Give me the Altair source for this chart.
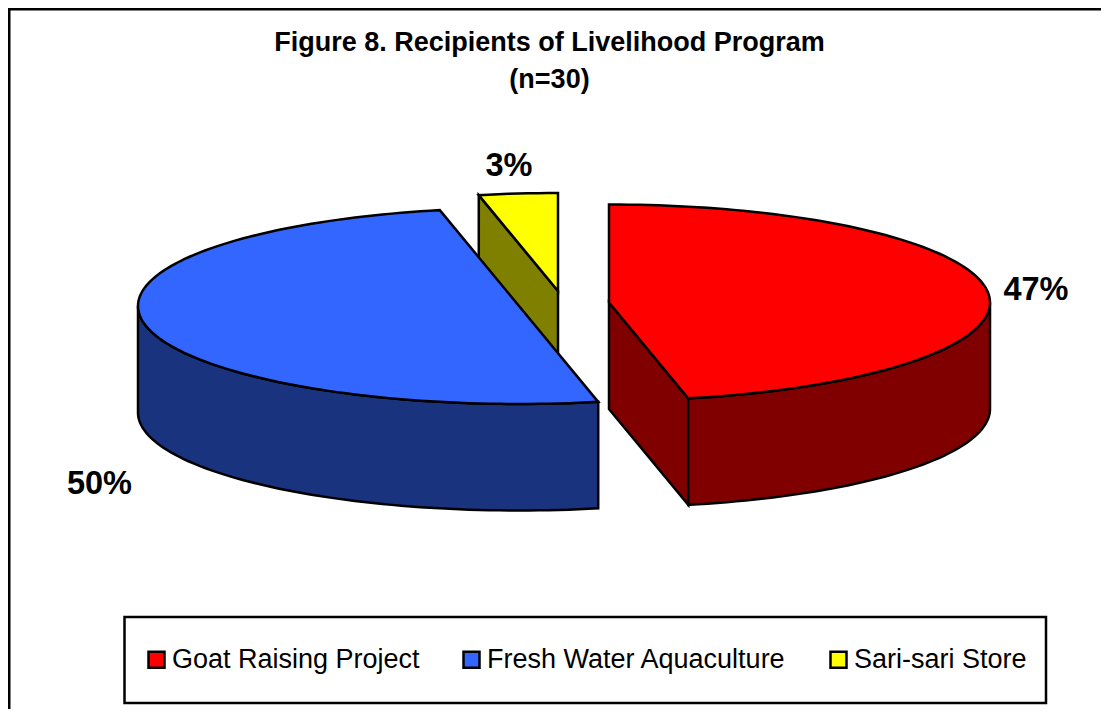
import numpy as np
import pandas as pd
import altair as alt

categories = ["Goat Raising Project", "Fresh Water Aquaculture", "Sari-sari Store"]
recipients = [14, 15, 1]
labels = ["47%", "50%", "3%"]
top_colors = ["#FF0000", "#3366FF", "#FFFF00"]
side_colors = ["#800000", "#1A337F", "#808000"]
centers_x = [609, 519, 558]
centers_y = [302.5, 306, 291]
label_x = [1036, 99.5, 509]
label_y = [290, 484, 166]
title_lines = ["Figure 8. Recipients of Livelihood Program", "(n=30)"]

RX, RY, DEPTH = 381, 98, 106.5
FONT = "Liberation Sans"
X_DOM = [8, 1101]
Y_DOM = [709, 8]
xs = alt.Scale(domain=X_DOM, range=[0, 1093], nice=False, zero=False)
ys = alt.Scale(domain=Y_DOM, range=[701, 0], nice=False, zero=False)
X = lambda f: alt.X(f, scale=xs, axis=None)
Y = lambda f: alt.Y(f, scale=ys, axis=None)

total = sum(recipients)
ends = np.cumsum(recipients) / total * 360
starts = np.concatenate([[0], ends[:-1]])


def rim(i, a, b, drop=0.0):
    n = max(2, int(abs(b - a) / 1.5) + 1)
    t = np.radians(np.linspace(a, b, n))
    return list(centers_x[i] + RX * np.sin(t)), list(centers_y[i] - RY * np.cos(t) + drop)


def poly(px, py, series=None):
    px, py = list(px) + [px[0], px[1]], list(py) + [py[0], py[1]]
    d = pd.DataFrame({"px": px, "py": py, "k": range(len(px))})
    if series:
        d["series"] = series
    return d


def top(i):
    rx, ry = rim(i, starts[i], ends[i])
    return poly([centers_x[i]] + rx, [centers_y[i]] + ry, categories[i])


def cut(i, angle):
    rx, ry = rim(i, angle, angle)
    x0, y0 = rx[0], ry[0]
    cx, cy = centers_x[i], centers_y[i]
    return poly([cx, x0, x0, cx], [cy, y0, y0 + DEPTH, cy + DEPTH])


def wall(i, a, b):
    ux, uy = rim(i, a, b)
    lx, ly = rim(i, b, a, DEPTH)
    return poly(ux + lx, uy + ly)


def side_layer(d, color):
    return alt.Chart(d).mark_line(fill=color, stroke="black", strokeWidth=2.5, strokeJoin="miter").encode(
        x=X("px:Q"), y=Y("py:Q"), order="k:Q"
    )


def top_layer(d):
    return alt.Chart(d).mark_line(stroke="black", strokeWidth=2.5, strokeJoin="miter").encode(
        x=X("px:Q"), y=Y("py:Q"), order="k:Q",
        fill=alt.Fill(
            "series:N",
            scale=alt.Scale(domain=categories, range=top_colors),
            legend=alt.Legend(
                title=None, orient="none", legendX=135, legendY=638, direction="horizontal", columns=3,
                symbolType="square", symbolSize=256, symbolStrokeColor="black", symbolStrokeWidth=2.5,
                symbolOpacity=1, labelFont=FONT, labelFontSize=27, labelColor="black",
                labelOffset=2, columnPadding=38, labelLimit=500, padding=0,
            ),
        ),
    )


layers = [
    # frame
    alt.Chart(pd.DataFrame({"a": [8], "b": [1101], "c": [9]})).mark_rule(color="black", strokeWidth=3).encode(
        x=X("a:Q"), x2="b:Q", y=Y("c:Q")
    ),
    alt.Chart(pd.DataFrame({"a": [9], "c": [8], "d": [709]})).mark_rule(color="black", strokeWidth=3).encode(
        x=X("a:Q"), y=Y("c:Q"), y2="d:Q"
    ),
    # legend box
    alt.Chart(pd.DataFrame({"a": [124.5], "b": [1046], "c": [617], "d": [703]})).mark_rect(
        fill="white", stroke="black", strokeWidth=2.5
    ).encode(x=X("a:Q"), x2="b:Q", y=Y("c:Q"), y2="d:Q"),
    # yellow slice
    side_layer(cut(2, starts[2]), side_colors[2]),
    top_layer(top(2)),
    # blue slice
    side_layer(wall(1, starts[1], 270), side_colors[1]),
    top_layer(top(1)),
    # red slice
    side_layer(cut(0, ends[0]), side_colors[0]),
    side_layer(wall(0, 90, ends[0]), side_colors[0]),
    top_layer(top(0)),
    # labels
    alt.Chart(pd.DataFrame({"px": label_x, "py": label_y, "t": labels})).mark_text(
        font=FONT, fontSize=32.5, fontWeight="bold", color="black"
    ).encode(x=X("px:Q"), y=Y("py:Q"), text="t:N"),
]

chart = alt.layer(*layers).resolve_scale(fill="shared").properties(
    width=1093,
    height=701,
    padding=0,
    autosize=alt.AutoSizeParams(type="none"),
    title=alt.TitleParams(
        text=title_lines, anchor="middle", frame="group", baseline="top", offset=0, dy=87, dx=-5,
        font=FONT, fontSize=27, fontWeight="bold", color="black", lineHeight=37,
    ),
).configure_view(stroke=None).configure(background="white")

chart.save("out.html", embed_options={"renderer": "svg", "actions": False})
